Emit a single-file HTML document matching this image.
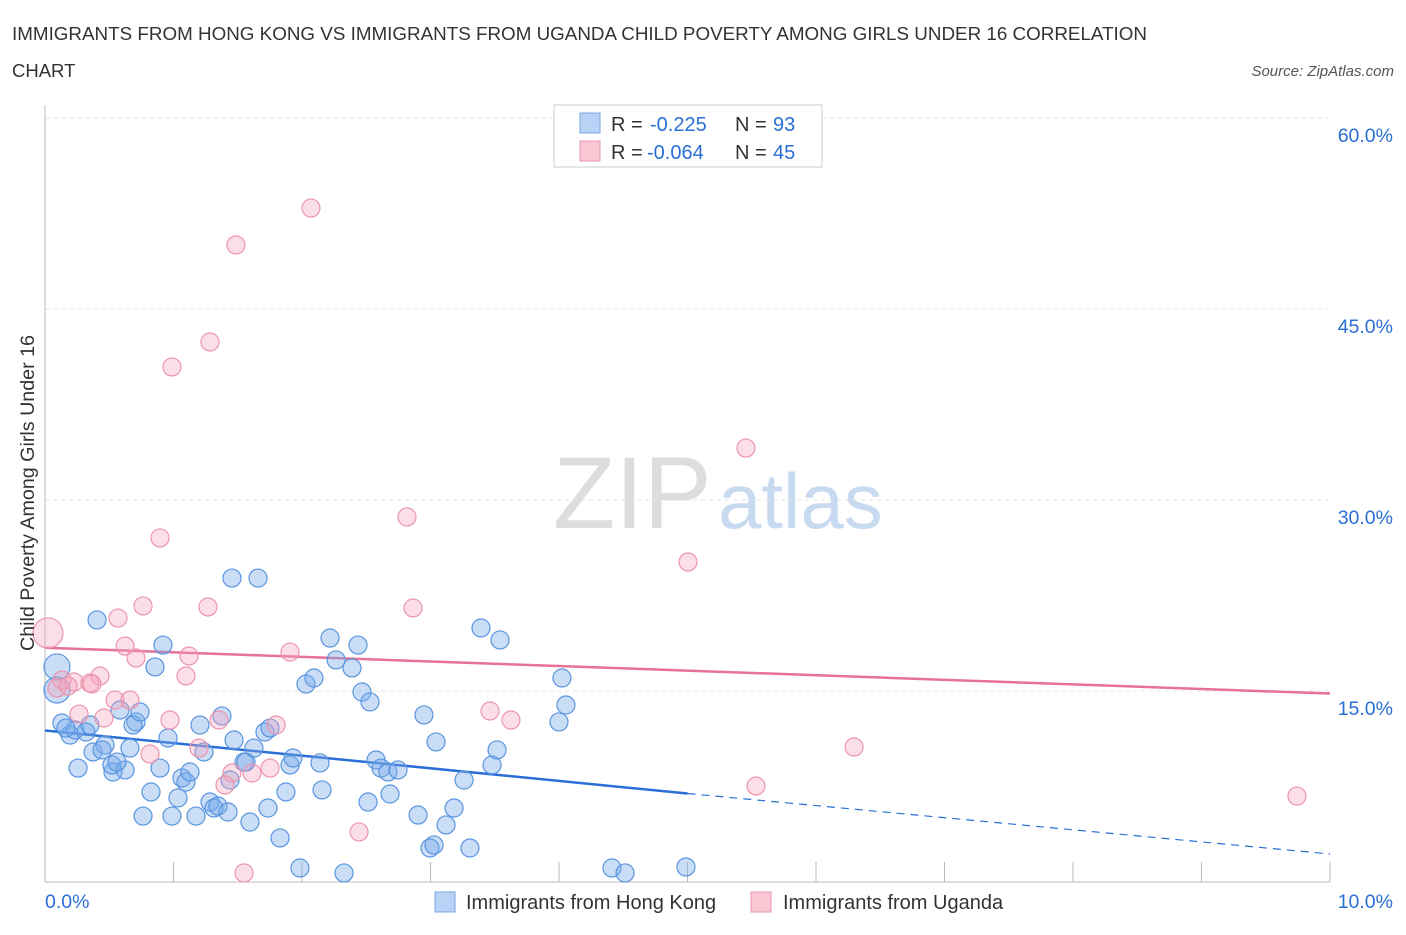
<!DOCTYPE html>
<html><head><meta charset="utf-8">
<style>
body{margin:0;background:#fff;font-family:"Liberation Sans",sans-serif;}
svg text{font-family:"Liberation Sans",sans-serif;}
</style></head>
<body>
<svg id="chart" width="1406" height="930" xmlns="http://www.w3.org/2000/svg">
<text x="12" y="40" font-size="18.5" textLength="1135" lengthAdjust="spacingAndGlyphs" fill="#333">IMMIGRANTS FROM HONG KONG VS IMMIGRANTS FROM UGANDA CHILD POVERTY AMONG GIRLS UNDER 16 CORRELATION</text>
<text x="12" y="77" font-size="18.5" fill="#333">CHART</text>
<text x="1394" y="76" font-size="15" fill="#555" font-style="italic" text-anchor="end">Source: ZipAtlas.com</text>
<g>
<text x="553" y="528" font-size="102" fill="#ddd" font-family="Liberation Serif,serif">ZIP</text>
<text x="718" y="528" font-size="78" fill="#c7daf0">atlas</text>
</g>
<g id="grid"></g>
<g id="axes"></g>
<g id="trend"></g>
<g id="pts"></g>
<text transform="translate(34,493) rotate(-90)" font-size="19" textLength="316" lengthAdjust="spacingAndGlyphs" fill="#333" text-anchor="middle">Child Poverty Among Girls Under 16</text>
<g>
<rect x="554" y="105" width="268" height="62" fill="#fff" stroke="#ccc"/>
<rect x="580" y="113" width="20" height="20" fill="#b8d3f5" stroke="#7aa6e0"/>
<rect x="580" y="141" width="20" height="20" fill="#f9c6d4" stroke="#e99ab1"/>
<text x="611" y="131" font-size="20" fill="#333">R =</text>
<text x="650" y="131" font-size="20" fill="#2a6fd6">-0.225</text>
<text x="735" y="131" font-size="20" fill="#333">N =</text>
<text x="773" y="131" font-size="20" fill="#2a6fd6">93</text>
<text x="611" y="159" font-size="20" fill="#333">R =</text>
<text x="647" y="159" font-size="20" fill="#2a6fd6">-0.064</text>
<text x="735" y="159" font-size="20" fill="#333">N =</text>
<text x="773" y="159" font-size="20" fill="#2a6fd6">45</text>
</g>
<g>
<rect x="435" y="892" width="20" height="20" fill="#b8d3f5" stroke="#7aa6e0"/>
<text x="466" y="909" font-size="20" fill="#333">Immigrants from Hong Kong</text>
<rect x="751" y="892" width="20" height="20" fill="#f9c6d4" stroke="#e99ab1"/>
<text x="783" y="909" font-size="20" fill="#333">Immigrants from Uganda</text>
</g>
</svg>
<script>
const yTicks=[15,30,45,60];
const yTickLabels=["15.0%","30.0%","45.0%","60.0%"];
const xTickLabels=["0.0%","10.0%"];
const hkPx=[[57,667],[57,690],[97,620],[62,723],[70,735],[75,730],[86,732],[90,725],[78,768],[93,752],[105,745],[102,750],[113,772],[112,765],[125,770],[117,762],[120,710],[136,722],[133,725],[130,748],[155,667],[163,645],[160,768],[151,792],[143,816],[168,738],[172,816],[178,798],[182,778],[186,782],[190,772],[196,816],[200,725],[204,752],[210,802],[214,808],[218,806],[222,716],[228,812],[230,780],[234,740],[244,762],[246,762],[250,822],[254,748],[265,732],[270,728],[268,808],[280,838],[286,792],[290,765],[293,758],[300,868],[306,684],[314,678],[320,763],[322,790],[330,638],[336,660],[344,873],[352,668],[358,645],[362,692],[370,702],[368,802],[376,760],[381,768],[390,794],[388,772],[398,770],[418,815],[424,715],[430,848],[434,845],[436,742],[446,825],[454,808],[464,780],[470,848],[481,628],[492,765],[497,750],[500,640],[559,722],[562,678],[566,705],[612,868],[625,873],[686,867],[232,578],[258,578],[140,712],[66,728]];
const ugPx=[[311,208],[236,245],[172,367],[210,342],[746,448],[407,517],[160,538],[688,562],[143,606],[208,607],[118,618],[413,608],[125,646],[136,658],[189,656],[290,652],[186,676],[100,676],[74,682],[90,683],[92,684],[62,680],[115,700],[130,700],[79,714],[104,718],[170,720],[219,720],[276,725],[490,711],[511,720],[199,748],[150,754],[232,773],[252,773],[270,768],[225,785],[854,747],[756,786],[359,832],[244,873],[1297,796],[48,633],[57,688],[68,686]];
const hkX=hkPx.map(p=>+((p[0]-45)/128.5).toFixed(3));
const hkY=hkPx.map(p=>+((882-p[1])/12.733).toFixed(2));
const ugX=ugPx.map(p=>+((p[0]-45)/128.5).toFixed(3));
const ugY=ugPx.map(p=>+((882-p[1])/12.733).toFixed(2));
const hkTrend=[11.9,6.95,2.2];
const ugTrend=[18.4,14.8];
const X=v=>45+v*128.5, Y=v=>882-v*12.733;
const NS="http://www.w3.org/2000/svg";
function mk(tag,attrs,parent){const e=document.createElementNS(NS,tag);for(const k in attrs)e.setAttribute(k,attrs[k]);parent.appendChild(e);return e;}
const grid=document.getElementById('grid'),axes=document.getElementById('axes'),pts=document.getElementById('pts'),trend=document.getElementById('trend');
yTicks.forEach((t,i)=>{
 const l=mk('line',{x1:45,x2:1330,y1:Y(t),y2:Y(t),stroke:'#e3e3e3','stroke-dasharray':'4,4'},grid);
 
 
 const tx=mk('text',{x:1393,y:Y(t)+24,'font-size':19.5,fill:'#2a6fd6','text-anchor':'end'},axes);
 tx.textContent=yTickLabels[i];
 
 
});
mk('line',{x1:45,x2:45,y1:105,y2:882,stroke:'#bbb'},axes);
mk('line',{x1:45,x2:1330,y1:882,y2:882,stroke:'#bbb'},axes);
for(let i=0;i<=10;i++){mk('line',{x1:X(i),x2:X(i),y1:862,y2:882,stroke:'#bbb'},axes);}
const xl0=mk('text',{x:45,y:908,'font-size':19.5,fill:'#2a6fd6'},axes);xl0.textContent=xTickLabels[0];


const xl1=mk('text',{x:1393,y:908,'font-size':19.5,fill:'#2a6fd6','text-anchor':'end'},axes);xl1.textContent=xTickLabels[1];


function dot(x,y,r,fill,stroke,name){const c=mk('circle',{cx:X(x),cy:Y(y),r:r,fill:fill,stroke:stroke,'stroke-width':1.2},pts);
 
 }
hkX.forEach((x,i)=>dot(x,hkY[i],(i<2?13:9),'rgba(120,170,235,0.4)','#5a95e0','point-hong-kong'));
ugX.forEach((x,i)=>dot(x,ugY[i],(i==42?15:9),'rgba(245,160,185,0.35)','#eb95ae','point-uganda'));
const b1=mk('line',{x1:X(0),y1:Y(hkTrend[0]),x2:X(5),y2:Y(hkTrend[1]),stroke:'#2a6fd6','stroke-width':2.5},trend);


const b2=mk('line',{x1:X(5),y1:Y(hkTrend[1]),x2:X(10),y2:Y(hkTrend[2]),stroke:'#2a6fd6','stroke-width':1.2,'stroke-dasharray':'8,6'},trend);


const p1=mk('line',{x1:X(0),y1:Y(ugTrend[0]),x2:X(10),y2:Y(ugTrend[1]),stroke:'#e6719a','stroke-width':2.5},trend);


</script>
</body></html>
